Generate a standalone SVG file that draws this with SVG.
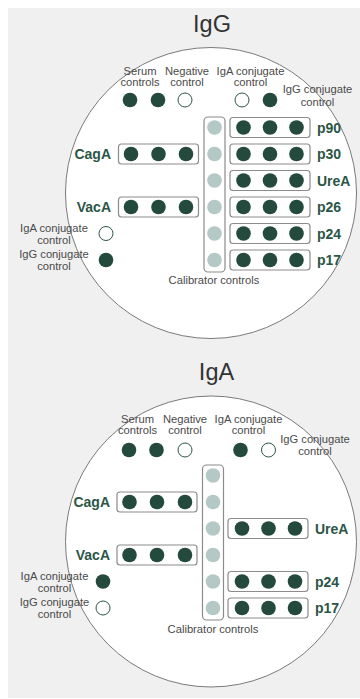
<svg xmlns="http://www.w3.org/2000/svg" width="360" height="699" viewBox="0 0 360 699">
<style>
.bg{fill:#f0f0f0}
.plate{fill:#fff;stroke:#7a7a7a;stroke-width:1}
.title{font-family:"Liberation Sans",Arial,sans-serif;font-size:23.5px;fill:#333;text-anchor:middle}
.lbl{font-family:"Liberation Sans",Arial,sans-serif;font-size:11.2px;fill:#4a4a4a;text-anchor:middle}
.lblr{font-family:"Liberation Sans",Arial,sans-serif;font-size:11.2px;fill:#4a4a4a;text-anchor:middle}
.ag{font-family:"Liberation Sans",Arial,sans-serif;font-size:14px;font-weight:bold;fill:#2b5646}
.agl{font-family:"Liberation Sans",Arial,sans-serif;font-size:14px;font-weight:bold;fill:#2b5646;text-anchor:end}
.box{fill:#fff;stroke:#8c8c8c;stroke-width:1.2}
.d{fill:#234a3c}
.o{fill:#fff;stroke:#2b5646;stroke-width:1}
.c{fill:#b4c9c6}
</style>
<rect class="bg" x="8" y="8" width="352" height="690"/>

<g id="panel-igg">
  <text class="title" x="212" y="32">IgG</text>
  <circle class="plate" cx="211" cy="193" r="145.5"/>
  <g id="igg-top">
    <text class="lbl" x="140" y="75">Serum</text><text class="lbl" x="140" y="86">controls</text>
    <text class="lbl" x="187" y="75">Negative</text><text class="lbl" x="187" y="86">control</text>
    <text class="lbl" x="250.5" y="75">IgA conjugate</text><text class="lbl" x="250.5" y="86">control</text>
    <text class="lbl" x="317.5" y="93">IgG conjugate</text><text class="lbl" x="317.5" y="105.5">control</text>
    <circle class="d" cx="130" cy="100" r="7.3"/>
    <circle class="d" cx="158" cy="100" r="7.3"/>
    <circle class="o" cx="185" cy="100" r="7"/>
    <circle class="o" cx="242" cy="100" r="7"/>
    <circle class="d" cx="270" cy="100" r="7.3"/>
  </g>
  <g id="igg-calibrator">
    <rect class="box" x="204" y="117" width="21" height="155" rx="4"/>
    <circle class="c" cx="214.5" cy="127.5" r="7.3"/>
    <circle class="c" cx="214.5" cy="154" r="7.3"/>
    <circle class="c" cx="214.5" cy="180.5" r="7.3"/>
    <circle class="c" cx="214.5" cy="207" r="7.3"/>
    <circle class="c" cx="214.5" cy="233.5" r="7.3"/>
    <circle class="c" cx="214.5" cy="260" r="7.3"/>
    <text class="lbl" x="214" y="284">Calibrator controls</text>
  </g>
  <g id="igg-caga">
    <rect class="box" x="118.5" y="144" width="80" height="20" rx="3"/>
    <circle class="d" cx="131" cy="154" r="7.3"/><circle class="d" cx="158.5" cy="154" r="7.3"/><circle class="d" cx="186" cy="154" r="7.3"/>
    <text class="agl" x="111" y="159">CagA</text>
  </g>
  <g id="igg-vaca">
    <rect class="box" x="118.5" y="197" width="80" height="20" rx="3"/>
    <circle class="d" cx="131" cy="207" r="7.3"/><circle class="d" cx="158.5" cy="207" r="7.3"/><circle class="d" cx="186" cy="207" r="7.3"/>
    <text class="agl" x="111" y="212">VacA</text>
  </g>
  <g id="igg-p90">
    <rect class="box" x="230" y="117.5" width="80" height="20" rx="3"/>
    <circle class="d" cx="243.5" cy="127.5" r="7.3"/><circle class="d" cx="270" cy="127.5" r="7.3"/><circle class="d" cx="296.5" cy="127.5" r="7.3"/>
    <text class="ag" x="317" y="132.5">p90</text>
  </g>
  <g id="igg-p30">
    <rect class="box" x="230" y="144" width="80" height="20" rx="3"/>
    <circle class="d" cx="243.5" cy="154" r="7.3"/><circle class="d" cx="270" cy="154" r="7.3"/><circle class="d" cx="296.5" cy="154" r="7.3"/>
    <text class="ag" x="317" y="159">p30</text>
  </g>
  <g id="igg-urea">
    <rect class="box" x="230" y="170.5" width="80" height="20" rx="3"/>
    <circle class="d" cx="243.5" cy="180.5" r="7.3"/><circle class="d" cx="270" cy="180.5" r="7.3"/><circle class="d" cx="296.5" cy="180.5" r="7.3"/>
    <text class="ag" x="317" y="185.5">UreA</text>
  </g>
  <g id="igg-p26">
    <rect class="box" x="230" y="197" width="80" height="20" rx="3"/>
    <circle class="d" cx="243.5" cy="207" r="7.3"/><circle class="d" cx="270" cy="207" r="7.3"/><circle class="d" cx="296.5" cy="207" r="7.3"/>
    <text class="ag" x="317" y="212">p26</text>
  </g>
  <g id="igg-p24">
    <rect class="box" x="230" y="223.5" width="80" height="20" rx="3"/>
    <circle class="d" cx="243.5" cy="233.5" r="7.3"/><circle class="d" cx="270" cy="233.5" r="7.3"/><circle class="d" cx="296.5" cy="233.5" r="7.3"/>
    <text class="ag" x="317" y="238.5">p24</text>
  </g>
  <g id="igg-p17">
    <rect class="box" x="230" y="250" width="80" height="20" rx="3"/>
    <circle class="d" cx="243.5" cy="260" r="7.3"/><circle class="d" cx="270" cy="260" r="7.3"/><circle class="d" cx="296.5" cy="260" r="7.3"/>
    <text class="ag" x="317" y="265">p17</text>
  </g>
  <g id="igg-left-controls">
    <text class="lbl" x="54" y="232">IgA conjugate</text><text class="lbl" x="54" y="244">control</text>
    <text class="lbl" x="54" y="258">IgG conjugate</text><text class="lbl" x="54" y="270">control</text>
    <circle class="o" cx="106" cy="233.5" r="7"/>
    <circle class="d" cx="106" cy="260" r="7.3"/>
  </g>
</g>

<g id="panel-iga">
  <text class="title" x="216.5" y="380">IgA</text>
  <circle class="plate" cx="211" cy="541.5" r="145.5"/>
  <g id="iga-top">
    <text class="lbl" x="137.5" y="422.5">Serum</text><text class="lbl" x="137.5" y="433.5">controls</text>
    <text class="lbl" x="185" y="422.5">Negative</text><text class="lbl" x="185" y="433.5">control</text>
    <text class="lbl" x="248.5" y="422.5">IgA conjugate</text><text class="lbl" x="248.5" y="433.5">control</text>
    <text class="lbl" x="315" y="443">IgG conjugate</text><text class="lbl" x="315" y="455">control</text>
    <circle class="d" cx="129" cy="450" r="7.3"/>
    <circle class="d" cx="156.5" cy="450" r="7.3"/>
    <circle class="o" cx="185" cy="450" r="7"/>
    <circle class="d" cx="240.5" cy="450" r="7.3"/>
    <circle class="o" cx="268.5" cy="450" r="7"/>
  </g>
  <g id="iga-calibrator">
    <rect class="box" x="202.5" y="465" width="21" height="155" rx="4"/>
    <circle class="c" cx="213" cy="475.5" r="7.3"/>
    <circle class="c" cx="213" cy="502" r="7.3"/>
    <circle class="c" cx="213" cy="528.5" r="7.3"/>
    <circle class="c" cx="213" cy="555" r="7.3"/>
    <circle class="c" cx="213" cy="581.5" r="7.3"/>
    <circle class="c" cx="213" cy="608" r="7.3"/>
    <text class="lbl" x="213" y="633">Calibrator controls</text>
  </g>
  <g id="iga-caga">
    <rect class="box" x="117" y="492" width="80" height="20" rx="3"/>
    <circle class="d" cx="129.5" cy="502" r="7.3"/><circle class="d" cx="157" cy="502" r="7.3"/><circle class="d" cx="185" cy="502" r="7.3"/>
    <text class="agl" x="110" y="507">CagA</text>
  </g>
  <g id="iga-vaca">
    <rect class="box" x="117" y="545" width="80" height="20" rx="3"/>
    <circle class="d" cx="129.5" cy="555" r="7.3"/><circle class="d" cx="157" cy="555" r="7.3"/><circle class="d" cx="185" cy="555" r="7.3"/>
    <text class="agl" x="110" y="560">VacA</text>
  </g>
  <g id="iga-urea">
    <rect class="box" x="228" y="518.5" width="80" height="20" rx="3"/>
    <circle class="d" cx="242" cy="528.5" r="7.3"/><circle class="d" cx="268.5" cy="528.5" r="7.3"/><circle class="d" cx="295" cy="528.5" r="7.3"/>
    <text class="ag" x="315" y="533.5">UreA</text>
  </g>
  <g id="iga-p24">
    <rect class="box" x="228" y="571.5" width="80" height="20" rx="3"/>
    <circle class="d" cx="242" cy="581.5" r="7.3"/><circle class="d" cx="268.5" cy="581.5" r="7.3"/><circle class="d" cx="295" cy="581.5" r="7.3"/>
    <text class="ag" x="315" y="586.5">p24</text>
  </g>
  <g id="iga-p17">
    <rect class="box" x="228" y="598" width="80" height="20" rx="3"/>
    <circle class="d" cx="242" cy="608" r="7.3"/><circle class="d" cx="268.5" cy="608" r="7.3"/><circle class="d" cx="295" cy="608" r="7.3"/>
    <text class="ag" x="315" y="613">p17</text>
  </g>
  <g id="iga-left-controls">
    <text class="lbl" x="54.5" y="580">IgA conjugate</text><text class="lbl" x="54.5" y="592">control</text>
    <text class="lbl" x="54.5" y="606">IgG conjugate</text><text class="lbl" x="54.5" y="618">control</text>
    <circle class="d" cx="103" cy="581.5" r="7.3"/>
    <circle class="o" cx="103" cy="608" r="7"/>
  </g>
</g>
<g id="connectors"></g>
</svg>
